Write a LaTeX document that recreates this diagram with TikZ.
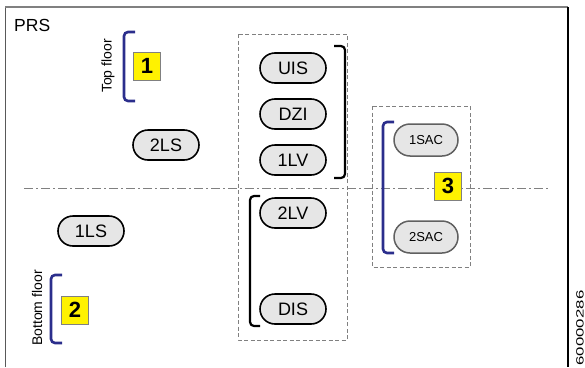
\documentclass[tikz,border=0pt]{standalone}
\usepackage{fontspec}
\setmainfont{Liberation Sans}
\usetikzlibrary{shapes.misc}
\definecolor{brblue}{HTML}{2B2E8C}
\definecolor{unitfill}{HTML}{E6E6E6}
\begin{document}
\begin{tikzpicture}[x=1pt,y=-1pt,
  unit/.style={rounded rectangle, draw=black, line width=1.6pt, fill=unitfill,
    minimum width=66pt, minimum height=30pt, inner sep=0pt,
    font=\fontsize{18}{18}\selectfont},
  sac/.style={rounded rectangle, draw=gray!75!black, line width=1.5pt, fill=unitfill,
    minimum width=64pt, minimum height=32pt, inner sep=0pt,
    font=\fontsize{13}{13}\selectfont},
  numbox/.style={draw=gray, fill=yellow, line width=0.6pt, minimum width=27pt,
    minimum height=28pt, inner sep=0pt, font=\bfseries\fontsize{22}{22}\selectfont},
  bluebr/.style={draw=brblue, line width=2.6pt, rounded corners=4pt},
  blackbr/.style={draw=black, line width=2.2pt, rounded corners=4pt},
  groupbox/.style={draw=gray, line width=0.8pt, dash pattern=on 4pt off 2.5pt},
  axisline/.style={draw=gray, line width=1pt, dash pattern=on 9pt off 3pt on 2pt off 3pt},
  sidelabel/.style={rotate=90, inner sep=0pt, font=\fontsize{14}{14}\selectfont},
]
\useasboundingbox (0,0) rectangle (585,367);
% frame
\draw[gray!70!black, line width=0.8pt] (5,367) -- (5,7);
\draw[gray, line width=1.2pt] (5,7) -- (568,7);
\draw[black, line width=1.2pt] (568,7) -- (568,367);
\node[anchor=west, inner sep=0pt, font=\fontsize{17.5}{17.5}\selectfont] (prs) at (14,25) {PRS};
\node[rotate=90, inner sep=0pt, font=\fontsize{10.5}{10.5}\selectfont] (docnum) at (580,328) {\scalebox{1.6}[1]{60000286}};

% axis line
\coordinate (axisL) at (24,188);
\coordinate (axisR) at (548,188);
\draw[axisline] (axisL) -- (axisR);

% group boxes
\draw[groupbox] (238,34) rectangle (347,340);
\draw[groupbox] (372,106) rectangle (470,267);

% units
\node[unit] (uis) at (293,68) {UIS};
\node[unit] (dzi) at (293,114) {DZI};
\node[unit] (lv1) at (293,160) {1LV};
\node[unit] (lv2) at (293,213) {2LV};
\node[unit] (dis) at (293,309) {DIS};
\node[unit] (ls2) at (166,145) {2LS};
\node[unit] (ls1) at (91,231) {1LS};
\node[sac] (sac1) at (426,140) {1SAC};
\node[sac] (sac2) at (426,237) {2SAC};

% black brackets
\draw[blackbr] (334,46) -- (345,46) -- (345,178) -- (334,178);
\draw[blackbr] (260,196) -- (250,196) -- (250,326) -- (260,326);

% blue brackets
\draw[bluebr] (135,32) -- (124,32) -- (124,101) -- (135,101);
\draw[bluebr] (62,275) -- (51,275) -- (51,343) -- (62,343);
\draw[bluebr] (394,122) -- (383,122) -- (383,253) -- (394,253);

% number boxes
\node[numbox] (n1) at (147,66) {1};
\node[numbox] (n2) at (75,310) {2};
\node[numbox] (n3) at (448,186) {3};

% floor labels
\node[sidelabel] (topfloor) at (108,66) {Top floor};
\node[sidelabel] (bottomfloor) at (37,308) {Bottom floor};
\end{tikzpicture}
\end{document}
